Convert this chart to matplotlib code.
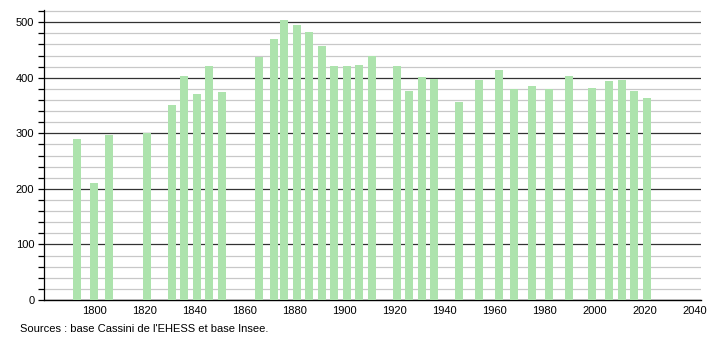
import matplotlib
matplotlib.use('Agg')
import matplotlib.pyplot as plt
from matplotlib.ticker import MultipleLocator

annees = [1793, 1800, 1806, 1821, 1831, 1836, 1841, 1846, 1851, 1866,
          1872, 1876, 1881, 1886, 1891, 1896, 1901, 1906, 1911, 1921,
          1926, 1931, 1936, 1946, 1954, 1962, 1968, 1975, 1982, 1990,
          1999, 2006, 2011, 2016, 2021]
population = [290, 211, 297, 300, 351, 403, 371, 421, 375, 438,
              470, 504, 495, 483, 457, 421, 421, 423, 440, 421,
              377, 401, 398, 357, 396, 414, 379, 385, 379, 403,
              382, 395, 396, 377, 364]
xticks = [1800, 1820, 1840, 1860, 1880, 1900, 1920, 1940, 1960, 1980, 2000, 2020, 2040]
source = "Sources : base Cassini de l'EHESS et base Insee."

plt.rcParams['font.family'] = ['Liberation Sans', 'DejaVu Sans']

fig = plt.figure(figsize=(7.1, 3.4), dpi=100)
ax = fig.add_axes([0.062, 0.1176, 0.925, 0.853])

ax.bar(annees, population, width=3.2, color='#ade3ad', zorder=3)

ax.set_xlim(1780, 2042.5)
ax.set_ylim(0, 522)
ax.yaxis.set_major_locator(MultipleLocator(100))
ax.yaxis.set_minor_locator(MultipleLocator(20))
ax.set_xticks(xticks)
ax.grid(axis='y', which='minor', color='#c8c8c8', lw=0.9, zorder=1)
ax.grid(axis='y', which='major', color='#333333', lw=0.9, zorder=2)
ax.tick_params(axis='y', which='both', length=4, width=0.9, labelsize=8, pad=3)
ax.tick_params(axis='x', length=0, labelsize=8, pad=4)

for s in ['top', 'right']:
    ax.spines[s].set_visible(False)
ax.spines['left'].set_linewidth(0.9)
ax.spines['bottom'].set_linewidth(1.0)

fig.text(20 / 710, 1 - 329 / 340, source, fontsize=8, va='center', ha='left')

fig.savefig('out.png', dpi=100)
